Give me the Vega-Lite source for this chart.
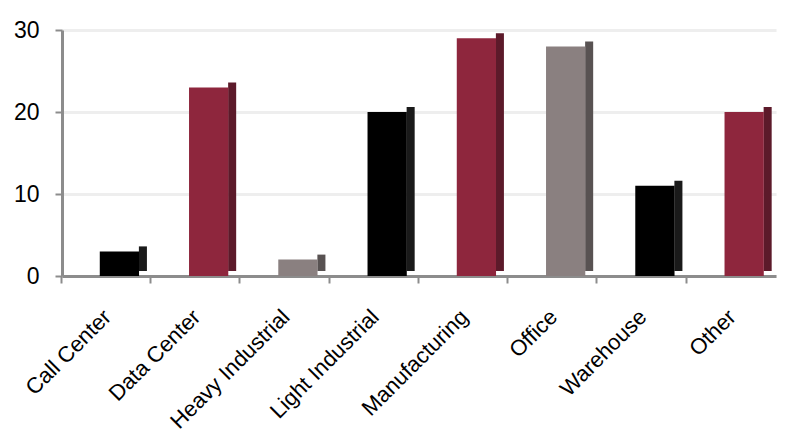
{
  "$schema": "https://vega.github.io/schema/vega-lite/v6.json",
  "width": 714,
  "height": 246,
  "autosize": "none",
  "padding": {"left": 62, "top": 30, "right": 30, "bottom": 160},
  "background": "white",
  "config": {"view": {"stroke": null}},
  "data": {
    "values": [
      {"type": "Call Center", "value": 3},
      {"type": "Data Center", "value": 23},
      {"type": "Heavy Industrial", "value": 2},
      {"type": "Light Industrial", "value": 20},
      {"type": "Manufacturing", "value": 29},
      {"type": "Office", "value": 28},
      {"type": "Warehouse", "value": 11},
      {"type": "Other", "value": 20}
    ]
  },
  "encoding": {
    "x": {
      "field": "type",
      "type": "nominal",
      "sort": null,
      "scale": {"paddingInner": 0.47, "paddingOuter": 0.235, "align": 0.9},
      "axis": {
        "title": null,
        "bandPosition": -0.81,
        "labelOffset": -16,
        "labelAngle": -45,
        "labelAlign": "right",
        "labelBaseline": "middle",
        "labelFont": "Liberation Sans",
        "labelFontSize": 22,
        "labelColor": "#000000",
        "labelPadding": 30,
        "domainColor": "#8c8c8c",
        "domainWidth": 3,
        "tickColor": "#8c8c8c",
        "tickWidth": 2,
        "tickSize": 7,
        "grid": false
      }
    },
    "y": {
      "field": "value",
      "type": "quantitative",
      "scale": {"domain": [0, 30]},
      "axis": {
        "title": null,
        "values": [0, 10, 20, 30],
        "labelFont": "Liberation Sans",
        "labelFontSize": 23,
        "labelColor": "#000000",
        "labelPadding": 16,
        "domainColor": "#8c8c8c",
        "domainWidth": 3,
        "tickColor": "#8c8c8c",
        "tickWidth": 2,
        "tickSize": 7,
        "grid": true,
        "gridColor": "#eeeeee",
        "gridWidth": 3
      }
    }
  },
  "layer": [
    {
      "mark": {"type": "bar", "width": {"band": 0.17}, "xOffset": 19.5, "yOffset": -5},
      "encoding": {
        "color": {
          "field": "type",
          "type": "nominal",
          "sort": null,
          "legend": null,
          "scale": {
            "domain": ["Call Center", "Data Center", "Heavy Industrial", "Light Industrial", "Manufacturing", "Office", "Warehouse", "Other"],
            "range": ["#1a1a1a", "#5c1a2a", "#585252", "#1a1a1a", "#5c1a2a", "#585252", "#1a1a1a", "#5c1a2a"]
          }
        }
      }
    },
    {
      "mark": {"type": "bar", "width": {"band": 0.83}, "xOffset": -4},
      "encoding": {
        "color": {
          "field": "type",
          "type": "nominal",
          "sort": null,
          "legend": null,
          "scale": {
            "domain": ["Call Center", "Data Center", "Heavy Industrial", "Light Industrial", "Manufacturing", "Office", "Warehouse", "Other"],
            "range": ["#000000", "#8e263d", "#8a8080", "#000000", "#8e263d", "#8a8080", "#000000", "#8e263d"]
          }
        }
      }
    }
  ],
  "resolve": {"scale": {"color": "independent"}}
}
